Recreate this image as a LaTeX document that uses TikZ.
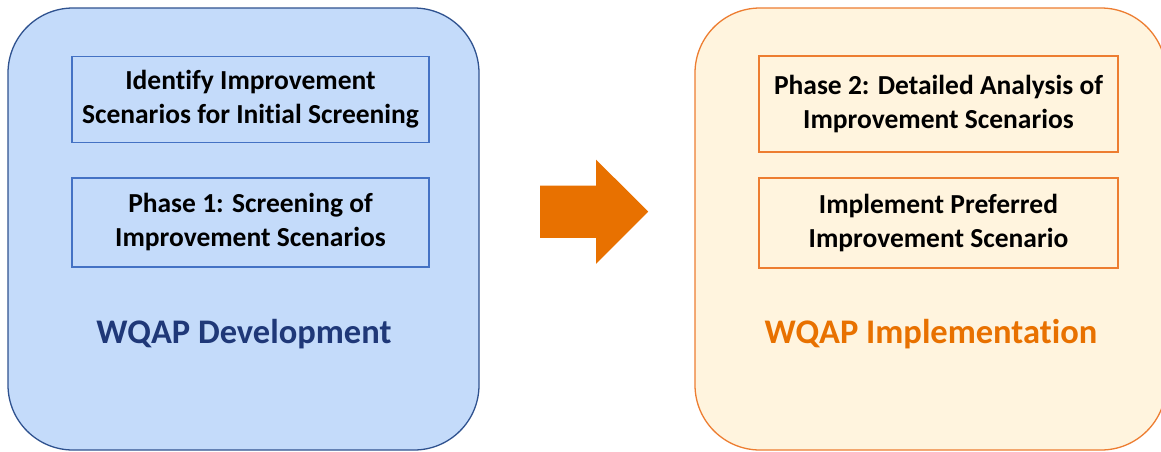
\documentclass[tikz,border=0pt]{standalone}
\usepackage{fontspec}
\setmainfont[RawFeature={-liga;-clig;-calt;-dlig}]{Carlito}
\usetikzlibrary{shapes,arrows,positioning}
\definecolor{devfill}{RGB}{196,219,250}
\definecolor{devedge}{RGB}{47,82,143}
\definecolor{taskblue}{RGB}{68,114,196}
\definecolor{devtext}{RGB}{31,56,120}
\definecolor{implfill}{RGB}{255,244,222}
\definecolor{implorange}{RGB}{237,125,49}
\definecolor{goorange}{RGB}{232,113,0}

\begin{document}
\begin{tikzpicture}[x=1pt, y=-1pt,
  phase/.style={draw, line width=1.3pt, rounded corners=65pt, minimum width=471pt, minimum height=442pt},
  task/.style={draw, line width=1.3pt, minimum width=357pt, align=center, inner sep=0pt, font=\bfseries\fontsize{27.5}{34}\selectfont},
  title/.style={anchor=base, font=\bfseries\fontsize{34.5}{40}\selectfont}]
\useasboundingbox (0,0) rectangle (1161,451);

% Left: development
\node[phase, devedge, fill=devfill] (dev) at (243.5,229) {};
\node[task, taskblue, text=black, minimum height=86pt] (identify) at (250.5,99.5) {Identify Improvement\\Scenarios for Initial Screening};
\node[task, taskblue, text=black, minimum height=89pt] (screen) at (250.5,222.5) {Phase 1: Screening of\\Improvement Scenarios};
\node[title, text=devtext] (devtitle) at (244,343) {WQAP Development};

% Right: implementation
\node[phase, implorange, fill=implfill] (impl) at (930.5,229) {};
\node[task, implorange, text=black, minimum width=359pt, minimum height=96pt] (detail) at (938.5,104) {Phase 2: Detailed Analysis of\\Improvement Scenarios};
\node[task, implorange, text=black, minimum width=359pt, minimum height=90pt] (preferred) at (938.5,223) {Implement Preferred\\Improvement Scenario};
\node[title, text=goorange] (impltitle) at (931,343) {WQAP Implementation};

% Big arrow between
\node[single arrow, fill=goorange, inner xsep=0pt, inner ysep=26pt, text height=0pt, text depth=0pt,
  minimum height=108pt, single arrow head extend=26pt, single arrow tip angle=90, anchor=tail] (go) at (540,211.7) {};
\end{tikzpicture}
\end{document}
